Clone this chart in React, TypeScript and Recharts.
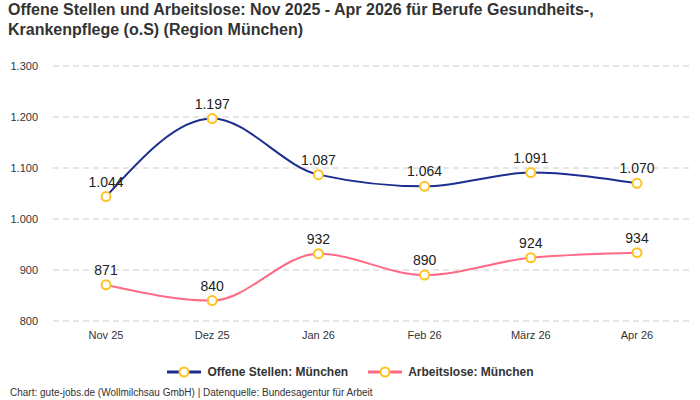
import React from "react";
import { LineChart, Line, XAxis, YAxis, CartesianGrid, LabelList } from "recharts";

// Monthly figures for nursing professions, region Munich
const months = ["Nov 25", "Dez 25", "Jan 26", "Feb 26", "März 26", "Apr 26"];
const openPositions = [1044, 1197, 1087, 1064, 1091, 1070];
const unemployed = [871, 840, 932, 890, 924, 934];
const yTicks = [800, 900, 1000, 1100, 1200, 1300];

const seriesNames = ["Offene Stellen: München", "Arbeitslose: München"];
const seriesColors = ["#1b2d8f", "#ff6b86"];
const dotColor = "#ffc21f";

const data = months.map((m, i) => ({
  month: m,
  offen: openPositions[i],
  arbeitslos: unemployed[i],
}));

const fmt = (v: number) =>
  String(Math.round(v)).replace(/\B(?=(\d{3})+(?!\d))/g, ".");

const FONT = "'Liberation Sans', Arial, sans-serif";

const dotProps = { r: 4.5, fill: "#ffffff", stroke: dotColor, strokeWidth: 2 };

const ValueLabel = (props: any) => {
  const { x, y, value } = props;
  return (
    <text
      x={x}
      y={y - 10}
      textAnchor="middle"
      fontFamily={FONT}
      fontSize={14}
      fontWeight={500}
      fill="#222"
    >
      {fmt(value)}
    </text>
  );
};

const LegendItem = ({ color, name, gap }: { color: string; name: string; gap: number }) => (
  <div style={{ display: "flex", alignItems: "center", marginRight: gap }}>
    <svg width={36} height={12} style={{ marginRight: 5 }}>
      <line x1={1} y1={6} x2={35} y2={6} stroke={color} strokeWidth={3} />
      <circle cx={18} cy={6} r={4.5} fill="#fff" stroke={dotColor} strokeWidth={2} />
    </svg>
    <span style={{ fontWeight: 700, fontSize: 12, color: "#333" }}>{name}</span>
  </div>
);

export default function App() {
  return (
    <div
      style={{
        position: "absolute",
        left: 0,
        top: 0,
        width: 700,
        height: 400,
        background: "#fff",
        fontFamily: FONT,
        overflow: "hidden",
      }}
    >
      <div
        style={{
          position: "absolute",
          left: 8,
          top: 0,
          fontSize: 16,
          fontWeight: 700,
          lineHeight: "20px",
          color: "#333",
        }}
      >
        Offene Stellen und Arbeitslose: Nov 2025 - Apr 2026 für Berufe Gesundheits-,
        <br />
        Krankenpflege (o.S) (Region München)
      </div>

      <div style={{ position: "absolute", left: 0, top: 0 }}>
        <LineChart
          width={700}
          height={400}
          data={data}
          margin={{ top: 66, right: 10, left: 8, bottom: 49 }}
        >
          <CartesianGrid vertical={false} stroke="#cccccc" strokeDasharray="6 4" />
          <XAxis
            dataKey="month"
            axisLine={false}
            tickLine={false}
            tickSize={0}
            tickMargin={10}
            height={30}
            padding={{ left: 53, right: 53 }}
            tick={{ fontSize: 11, fill: "#333", fontFamily: FONT }}
            interval={0}
          />
          <YAxis
            domain={[800, 1300]}
            ticks={yTicks}
            width={45}
            axisLine={false}
            tickLine={false}
            tickSize={0}
            tickMargin={15}
            tickFormatter={fmt}
            tick={{ fontSize: 11, fill: "#333", fontFamily: FONT }}
          />
          <Line
            type="monotone"
            dataKey="offen"
            name={seriesNames[0]}
            stroke={seriesColors[0]}
            strokeWidth={2}
            dot={dotProps}
            activeDot={false}
            isAnimationActive={false}
          >
            <LabelList dataKey="offen" content={<ValueLabel />} />
          </Line>
          <Line
            type="monotone"
            dataKey="arbeitslos"
            name={seriesNames[1]}
            stroke={seriesColors[1]}
            strokeWidth={2}
            dot={dotProps}
            activeDot={false}
            isAnimationActive={false}
          >
            <LabelList dataKey="arbeitslos" content={<ValueLabel />} />
          </Line>
        </LineChart>
      </div>

      <div
        style={{
          position: "absolute",
          left: 0,
          top: 365,
          width: 700,
          display: "flex",
          justifyContent: "center",
        }}
      >
        <LegendItem color={seriesColors[0]} name={seriesNames[0]} gap={19} />
        <LegendItem color={seriesColors[1]} name={seriesNames[1]} gap={0} />
      </div>

      <div
        style={{
          position: "absolute",
          left: 10,
          top: 387,
          fontSize: 10,
          color: "#333",
        }}
      >
        Chart: gute-jobs.de (Wollmilchsau GmbH) | Datenquelle: Bundesagentur für Arbeit
      </div>
    </div>
  );
}
